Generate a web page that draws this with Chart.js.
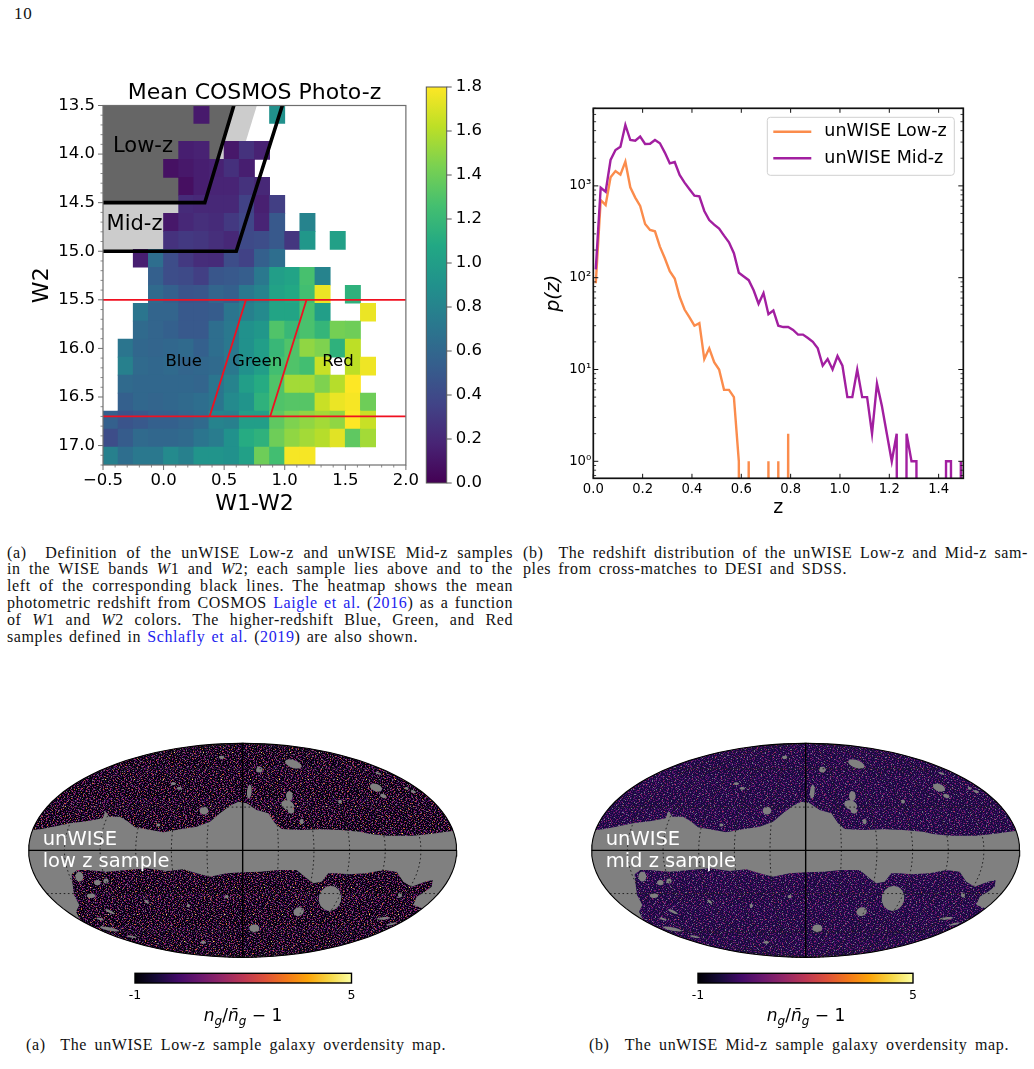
<!DOCTYPE html>
<html>
<head>
<meta charset="utf-8">
<title>unWISE sample definitions and overdensity maps</title>
<script src="https://cdn.jsdelivr.net/npm/chart.js@4/dist/chart.umd.min.js"></script>
<style>
  html, body { margin: 0; padding: 0; background: #fff; }
  #page { position: relative; width: 1034px; height: 1069px; overflow: hidden; background: #fff; }
  canvas { position: absolute; }
  .cap { position: absolute; font-family: "Liberation Serif", serif; font-size: 16px; letter-spacing: 0.6px; line-height: 17px;
         white-space: nowrap; text-align: justify; text-align-last: justify; color: #111; }
  .cap a { color: #2222ee; text-decoration: none; }
  .math { position: absolute; font-family: "DejaVu Sans", sans-serif; font-size: 17px; line-height: 24px;
          text-align: center; white-space: nowrap; color: #000; }
  .math sub { font-size: 12px; line-height: 0; }
</style>
</head>
<body>
<div id="page">
  <div class="cap" style="left:14px;top:5px;text-align-last:left;font-size:17px;letter-spacing:0.8px">10</div>

  <canvas id="heat" width="425" height="470" style="left:0;top:60px"></canvas>
  <canvas id="heatBar" width="80" height="444" style="left:420px;top:63px"></canvas>
  <canvas id="pz" width="490" height="440" style="left:530px;top:90px"></canvas>

  <div class="cap" style="left:7px;top:543.5px;width:506px">(a)&nbsp; Definition of the unWISE Low-z and unWISE Mid-z samples</div>
  <div class="cap" style="left:7px;top:560.4px;width:506px">in the WISE bands <i>W</i>1 and <i>W</i>2; each sample lies above and to the</div>
  <div class="cap" style="left:7px;top:577.2px;width:506px">left of the corresponding black lines. The heatmap shows the mean</div>
  <div class="cap" style="left:7px;top:594px;width:506px">photometric redshift from COSMOS <a>Laigle et al.</a> (<a>2016</a>) as a function</div>
  <div class="cap" style="left:7px;top:610.9px;width:506px">of <i>W</i>1 and <i>W</i>2 colors. The higher-redshift Blue, Green, and Red</div>
  <div class="cap" style="left:7px;top:627.7px;width:411px">samples defined in <a>Schlafly et al.</a> (<a>2019</a>) are also shown.</div>

  <div class="cap" style="left:523px;top:543.5px;width:505px">(b)&nbsp; The redshift distribution of the unWISE Low-z and Mid-z sam-</div>
  <div class="cap" style="left:523px;top:560.4px;width:324px">ples from cross-matches to DESI and SDSS.</div>

  <canvas id="mapLow" width="450" height="230" style="left:20px;top:735px"></canvas>
  <canvas id="mapMid" width="451" height="230" style="left:583px;top:735px"></canvas>
  <canvas id="barLow" width="260" height="45" style="left:115px;top:965px"></canvas>
  <canvas id="barMid" width="260" height="45" style="left:678px;top:965px"></canvas>

  <div class="math" style="left:143px;top:1003px;width:200px"><i>n<sub>g</sub></i>/<i>n̄<sub>g</sub></i> − 1</div>
  <div class="math" style="left:706px;top:1003px;width:200px"><i>n<sub>g</sub></i>/<i>n̄<sub>g</sub></i> − 1</div>

  <div class="cap" style="left:26px;top:1035.5px;width:420px">(a)&nbsp; The unWISE Low-z sample galaxy overdensity map.</div>
  <div class="cap" style="left:589px;top:1035.5px;width:420px">(b)&nbsp; The unWISE Mid-z sample galaxy overdensity map.</div>
</div>

<script>
/* ---------- Colour-colour heatmap: mean photo-z per W1-W2 / W2 bin ---------- */
const _ = null;
const colourBinStart = -0.5, colourBinWidth = 0.125;
const magBinStart = 13.5, magBinWidth = 0.185;
const meanPhotoZRows = [
  [_,_,_,_,_,_,.13,_,_,_,_,.90,_,_,_,_,_,_,_,_],
  [_,_,_,_,_,_,_,_,_,_,_,_,_,_,_,_,_,_,_,_],
  [_,_,_,_,_,.15,.17,_,.12,.26,.17,_,_,_,_,_,_,_,_,_],
  [_,_,_,_,.08,.12,.15,.17,.25,.15,_,_,_,_,_,_,_,_,_,_],
  [_,_,_,_,_,.07,.15,.18,.18,.26,.20,_,_,_,_,_,_,_,_,_],
  [_,_,_,_,_,.22,.20,.20,.20,.35,.16,.33,_,_,_,_,_,_,_,_],
  [_,_,_,_,.12,.20,.24,.22,.30,.38,.18,.50,_,.80,_,_,_,_,_,_],
  [_,_,_,_,.26,.30,.28,.24,.20,.40,.42,.50,.28,.95,_,1.02,_,_,_,_],
  [_,_,.15,.65,.42,.30,.23,.22,.42,.35,.55,.65,_,_,_,_,_,_,_,_],
  [_,_,_,.55,.42,.40,.33,.48,.50,.53,.72,1.00,1.04,1.27,.80,_,_,_,_,_],
  [_,_,_,.62,.55,.47,.48,.58,.55,.72,.80,1.03,1.08,1.25,1.75,_,1.15,_,_,_],
  [_,_,.70,.58,.58,.50,.50,.52,.70,.78,.85,1.05,1.05,1.28,1.00,_,_,1.75,_,_],
  [_,_,.62,.58,.55,.50,.50,.65,.72,.90,.95,1.30,1.20,1.28,1.18,1.42,1.40,_,_,_],
  [_,.70,.60,.58,.60,.62,.55,.65,.72,.90,1.00,1.20,1.30,1.50,1.45,1.15,1.62,_,_,_],
  [_,.78,.62,.60,.62,.58,.60,.62,.72,.90,1.00,1.25,1.30,1.25,1.65,_,1.62,1.76,_,_],
  [_,.62,.60,.60,.60,.60,.58,.70,.80,1.00,1.10,1.30,1.55,1.55,1.45,1.60,1.80,_,_,_],
  [_,.55,.60,.58,.60,.62,.65,.70,.85,.92,1.15,1.30,1.32,1.32,1.65,1.75,1.78,1.40,_,_],
  [.55,.47,.50,.55,.55,.58,.62,.80,.78,1.00,1.00,1.35,1.45,1.50,1.55,1.50,1.80,1.65,_,_],
  [.42,.52,.62,.60,.60,.62,.70,.75,.90,1.10,1.15,1.40,1.50,1.55,1.60,1.72,1.35,1.55,_,_],
  [.78,.65,.72,.72,.85,.78,.92,.92,.90,1.02,1.40,1.25,1.78,1.78,_,_,_,_,_,_]
];
const heatXTicks = [-0.5, 0, 0.5, 1, 1.5, 2];
const heatYTicks = [13.5, 14, 14.5, 15, 15.5, 16, 16.5, 17];
const heatXMinor = [-0.4,-0.3,-0.2,-0.1,0.1,0.2,0.3,0.4,0.6,0.7,0.8,0.9,1.1,1.2,1.3,1.4,1.6,1.7,1.8,1.9];
const heatYMinor = [13.6,13.7,13.8,13.9,14.1,14.2,14.3,14.4,14.6,14.7,14.8,14.9,15.1,15.2,15.3,15.4,15.6,15.7,15.8,15.9,16.1,16.2,16.3,16.4,16.6,16.7,16.8,16.9,17.1,17.2];

// Sample selection boundaries in (W1-W2, W2).
const lowZCut = [[-0.5,14.5],[0.34,14.5],[0.58,13.5]];
const midZCut = [[-0.5,15],[0.60,15],[0.98,13.5]];
const lowZShade = [[-0.5,14.5],[0.34,14.5],[0.58,13.5],[-0.5,13.5]];
const midZShade = [[-0.5,15],[0.40,15],[0.77,13.5],[-0.5,13.5]];
const w2FaintCut = [[-0.5,15.5],[2,15.5]];
const w2DeepCut = [[-0.5,16.7],[2,16.7]];
const blueGreenCut = [[0.68,15.5],[0.38,16.7]];
const greenRedCut = [[1.18,15.5],[0.88,16.7]];

/* ---------- Redshift distributions ---------- */
const zBinCenters = [0.01,0.03,0.05,0.07,0.09,0.11,0.13,0.15,0.17,0.19,0.21,0.23,0.25,0.27,0.29,0.31,0.33,0.35,0.37,0.39,0.41,0.43,0.45,0.47,0.49,0.51,0.53,0.55,0.57,0.59,0.61,0.63,0.65,0.67,0.69,0.71,0.73,0.75,0.77,0.79,0.81,0.83,0.85,0.87,0.89,0.91,0.93,0.95,0.97,0.99,1.01,1.03,1.05,1.07,1.09,1.11,1.13,1.15,1.17,1.19,1.21,1.23,1.25,1.27,1.29,1.31,1.33,1.35,1.37,1.39,1.41,1.43,1.45,1.47,1.49];
const lowZCounts = [87,700,620,1240,1450,1325,1835,965,745,604,385,331,320,218,163,118,98,62,45,37,30,32,13,17,12,10,6,6,5,1,0,1,0,0,0,1,0,1,0,2,0,0,0,0,0,0,0,0,0,0,0,0,0,0,0,0,0,0,0,0,0,0,0,0,0,0,0,0,0,0,0,0,0,0,0];
const midZCounts = [123,955,865,1915,2460,2670,4610,3160,3110,3450,2865,2880,3160,2910,2305,1762,1820,1315,1084,918,782,770,533,425,378,342,287,243,185,113,103,94,73,52,68,40,44,30,29,29,27,24,24,22,20,17,11,13,10,14,11,5,5,10,5,5,2,7,4,2,1,2,0,2,1,1,0,0,0,0,0,1,1,0,1];
const zTicks = [0, 0.2, 0.4, 0.6, 0.8, 1.0, 1.2, 1.4];
const pzDecades = [1, 10, 100, 1000];
const pzDecadeLabels = ['10⁰', '10¹', '10²', '10³'];
const pzMinor = [0.7,0.8,0.9,2,3,4,5,6,7,8,9,20,30,40,50,60,70,80,90,200,300,400,500,600,700,800,900,2000,3000,4000,5000,6000,7000];

/* ---------- Sky maps, outlines traced in map units ---------- */
const northMaskEdge = [[38,285],[60,283],[100,275],[150,265],[205,258],[248,250],[256,228],[268,245],[300,245],[325,260],[345,277],[380,283],[430,292],[480,283],[530,275],[570,260],[600,235],[630,212],[655,200],[680,205],[710,225],[745,235],[765,265],[785,282],[840,285],[900,283],[960,285],[1020,290],[1050,297],[1100,302],[1180,302],[1230,297],[1296,288]];
const southMaskEdge = [[182,557],[168,530],[178,510],[162,480],[158,450],[155,418],[172,405],[200,405],[260,410],[320,405],[380,400],[440,408],[490,403],[530,415],[570,425],[620,415],[668,412],[720,410],[775,405],[830,405],[860,430],[880,445],[905,440],[925,415],[950,415],[985,418],[1040,415],[1090,405],[1130,410],[1150,440],[1175,455],[1215,440],[1238,435],[1235,455],[1215,470],[1190,485],[1180,510],[1207,520]];
// Masked patches: centre, radii and tilt in degrees.
const maskHoles = [[820,87,26,12,20],[718,104,10,9,0],[605,67,8,5,0],[1068,158,19,11,20],[1090,183,10,6,20],[688,170,7,21,5],[808,183,10,15,0],[803,210,20,14,20],[813,228,10,8,0],[552,227,13,12,0],[460,146,8,4,0],[478,160,8,4,0],[930,490,34,38,15],[836,530,16,13,-20],[703,580,15,12,0],[178,425,12,15,0],[232,443,10,8,0],[258,438,8,8,0],[213,482,13,7,0],[380,500,9,4,40],[505,512,5,5,0],[620,485,6,5,0],[1140,480,6,8,0],[270,530,16,4,25],[268,582,30,5,12],[240,552,12,3,15],[335,605,15,3,10],[1090,550,20,4,-5],[1115,567,16,3,-15],[550,622,8,4,0],[960,200,6,6,0],[1075,115,10,3,20],[1160,160,6,4,20],[1180,170,8,4,20],[415,270,6,5,0],[845,260,6,8,0]];
const meridianLongitudes = [-150,-120,-90,-60,-30,30,60,90,120,150];
const parallelLatitudes = [-60,-30,30,60];
const overdensityTicks = [-1, 5];

// Hand-set grain for the observed sky: it stands in for pixel noise and carries no measured values.
// A base weave is overlaid with two sparse speck layers of different periods so the repeat stays hidden.
const skyGrainBase = [
  "..aabc.a...bda.ac..ba.a..cb...ab",
  "a.b..ca.ba..a..b.ac...dba.a.c..a",
  ".cba...a..cb.a...ba.c...a.b..ada",
  "b...adb..a...cba.a...ab.c..a.b..",
  "a.c..a...bac..a..db.a...ba..c.a.",
  "...ba.cb.a..a.b...a..cab...a.db.",
  ".ab...a..d.ba...ca.b...a.ca....b",
  "c..a.b..ac...a.b...a.db...ab.c..",
  ".a..cba...b.a.d..ca...a.b...a.ba",
  "ba.....ac.a.b...a..bac..a.d...c.",
  "..db.a...ba...ca.b...a.b...cba..",
  "a...c.ba.....ab..d.ac...ba...a.b",
  ".bc.a...db.a.c...a....b.a.cb.a..",
  "...a.ba...a..b.ca..bd.a...a...ca",
  "a.b...c.ab...a...b.a..c.ab.d....",
  ".a.cd...a.ba.c.a....ba...a...bca",
  "b...a.b....a...db.ca...c..ba....",
  "..ca...ac.b..a.b...a.b...a..d.ab",
  "a...bd.a...cb....a.c..ab...c.a..",
  ".b.a....ba...a.dc...b.a...ba...c",
  "..a.cb...a.b.a...ab...c.d...a.b.",
  "ca...a.db.....cb.a..a...b.ac...a",
  ".b..a...a.c.a...b...db.a...a.b..",
  "a..cb.a...b..da...c.a...cb...a.c",
  "...a..b.ca...b.a.b....a.a..db...",
  "b.d...a...a.c...a..bc...a.b...a.",
  ".a..ba...db...a...ca.b....c.a..b",
  "c...a.c...a.b..cb...a..db...a...",
  ".ab....a.b...a....a.c.a...ba.c.a",
  "..a.db.c..a.cb.a.d...b.a.....b..",
  "a...a...b...a....ba...c..a.bc..a",
  ".c.b..a.a.db..c.a..a.b...d...a.b"
];
const skyGrainSpecksA = [
  "---e-----g--------f------e---",
  "---------------e--------g----",
  "-f-----------g---------------",
  "--------e----------d-----f---",
  "----g-------------e----------",
  "------------f----------g---e-",
  "-e-----d---------------------",
  "----------------g-----f------",
  "--------g--e-----------------",
  "--f------------------e----g--",
  "-------------d---------------",
  "-----e-------------g------f--",
  "-g---------f-----------------",
  "-----------------e----d----e-",
  "--------f------g-------------",
  "---e-----------------g-------",
  "--------------e-------------f",
  "------g--h---------e---------",
  "-e---------------f-------g---",
  "------------g--------------e-",
  "-----f------------e----------",
  "--g------------d---------f---",
  "----------e------------g-----",
  "-f---------------g-----------",
  "-------e---g----------e-----d",
  "--------------------f--------",
  "----g------f--e--------------"
];
const skyGrainSpecksB = [
  "-----------d-----------",
  "--e----------g---------",
  "-----------------e-----",
  "-------f---------------",
  "-g----------------d----",
  "-----------e-----------",
  "--------------g-----f--",
  "---d-------------------",
  "---------g------e------",
  "----------------------e",
  "-e------f--------------",
  "---------------d---g---",
  "-----g-----------------",
  "-----------e-------f---",
  "--f--------------------",
  "---------d------g------",
  "-------------------e---",
  "--g---e----------------",
  "-------------f---------",
  "---------------------g-",
  "-----d-----g-----------",
  "-e---------------e-----",
  "-------------------d---",
  "-----------f-----------",
  "---g------------------e"
];
const lowSkyPalette = { '.':'#040208', a:'#1e0c42', b:'#430c63', c:'#6b1669', d:'#84206a', e:'#9c2c62', f:'#d0603a', g:'#7a7078', h:'#f8e060' };
const midSkyPalette = { '.':'#160b3c', a:'#2a0a56', b:'#400e68', c:'#551272', d:'#641670', e:'#7a1e6c', f:'#98285f', g:'#7a7488', h:'#c84458' };

/* ---------- Colour maps ---------- */
const viridisStops = ['#440154','#482475','#414487','#355f8d','#2a788e','#21918c','#22a884','#44bf70','#7ad151','#bddf26','#fde725'];
const infernoStops = ['#000004','#160b39','#420a68','#6a176e','#932667','#bc3754','#dd513a','#f37819','#fca50a','#f6d746','#fcffa4'];
const heatBarTicks = [0, 0.2, 0.4, 0.6, 0.8, 1.0, 1.2, 1.4, 1.6, 1.8];

function hexRgb(h) { return [1, 3, 5].map(i => parseInt(h.slice(i, i + 2), 16)); }
function viridis(v) {
  const t = Math.max(0, Math.min(1, v / 1.8)) * (viridisStops.length - 1);
  const i = Math.min(Math.floor(t), viridisStops.length - 2), f = t - i;
  const a = hexRgb(viridisStops[i]), b = hexRgb(viridisStops[i + 1]);
  return `rgb(${a.map((c, k) => Math.round(c + (b[k] - c) * f)).join(',')})`;
}
function stopsGradient(ctx, x0, y0, x1, y1, stops) {
  const g = ctx.createLinearGradient(x0, y0, x1, y1);
  stops.forEach((c, i) => g.addColorStop(i / (stops.length - 1), c));
  return g;
}

/* ---------- Shared drawing helpers ---------- */
const pts = arr => arr.map(([x, y]) => ({ x, y }));
const lockTicks = values => scale => { scale.ticks = values.map(value => ({ value })); };
const oneDecimal = v => Number(v).toFixed(1).replace('-', '−');
const FRAME_FONT = '"DejaVu Sans"';

Chart.defaults.font.family = FRAME_FONT;
Chart.defaults.color = '#000';

// Fills a closed outline from a dataset's resolved points; null entries start a new outline.
Chart.register({
  id: 'outlineFill',
  beforeDatasetDraw(chart, args) {
    const fill = chart.data.datasets[args.index].outlineFill;
    if (!fill) return;
    const { ctx } = chart;
    const pointsEls = chart.getDatasetMeta(args.index).data;
    ctx.save();
    ctx.beginPath();
    let open = false;
    pointsEls.forEach(p => {
      if (p.skip) { if (open) ctx.closePath(); open = false; return; }
      if (!open) { ctx.moveTo(p.x, p.y); open = true; } else ctx.lineTo(p.x, p.y);
    });
    if (open) ctx.closePath();
    ctx.fillStyle = fill;
    ctx.fill();
    ctx.restore();
  }
});

// Spines and tick marks in the style of the plots; positions come from the scales.
Chart.register({
  id: 'axisFrame',
  afterDatasetsDraw(chart, args, opts) {
    if (!opts.color) return;
    const { ctx, chartArea: a, scales } = chart;
    ctx.save();
    ctx.strokeStyle = opts.color;
    (opts.marks || []).forEach(m => {
      const sc = scales[m.axis];
      ctx.lineWidth = m.width;
      m.values.forEach(v => {
        const p = sc.getPixelForValue(v);
        ctx.beginPath();
        if (m.side === 'left') { ctx.moveTo(a.left, p); ctx.lineTo(a.left + m.len, p); }
        if (m.side === 'right') { ctx.moveTo(a.right, p); ctx.lineTo(a.right + m.len, p); }
        if (m.side === 'top') { ctx.moveTo(p, a.top); ctx.lineTo(p, a.top + m.len); }
        if (m.side === 'bottom') { ctx.moveTo(p, a.bottom); ctx.lineTo(p, a.bottom + m.len); }
        ctx.stroke();
      });
    });
    ctx.lineWidth = opts.width;
    ctx.strokeRect(a.left, a.top, a.right - a.left, a.bottom - a.top);
    ctx.restore();
  }
});

// Text placed at data coordinates.
Chart.register({
  id: 'dataText',
  afterDatasetsDraw(chart, args, opts) {
    const { ctx, scales } = chart;
    (opts.items || []).forEach(t => {
      ctx.save();
      ctx.font = t.font;
      ctx.fillStyle = t.color || '#000';
      ctx.textAlign = t.align || 'center';
      ctx.textBaseline = t.baseline || 'middle';
      ctx.fillText(t.text, scales.x.getPixelForValue(t.x), scales.y.getPixelForValue(t.y) + (t.dy || 0));
      ctx.restore();
    });
  }
});

// Legend box floating inside the plot area.
Chart.register({
  id: 'floatLegend',
  afterDatasetsDraw(chart, args, opts) {
    if (!opts.enabled) return;
    const { ctx, chartArea: a } = chart;
    const x = a.right - opts.right - opts.w, y = a.top + opts.top;
    ctx.save();
    ctx.beginPath();
    ctx.roundRect(x, y, opts.w, opts.h, 3);
    ctx.fillStyle = 'rgba(255,255,255,0.85)';
    ctx.fill();
    ctx.strokeStyle = '#d0d0d0';
    ctx.lineWidth = 1;
    ctx.stroke();
    chart.data.datasets.forEach((ds, i) => {
      const ly = y + opts.firstRow + i * opts.rowGap;
      ctx.strokeStyle = ds.borderColor;
      ctx.lineWidth = ds.borderWidth;
      ctx.beginPath();
      ctx.moveTo(x + 6, ly);
      ctx.lineTo(x + 44, ly);
      ctx.stroke();
      ctx.fillStyle = '#000';
      ctx.font = opts.font;
      ctx.textAlign = 'left';
      ctx.textBaseline = 'middle';
      ctx.fillText(ds.label, x + 57, ly);
    });
    ctx.restore();
  }
});

const baseOptions = {
  responsive: false,
  animation: false,
  events: [],
  layout: { autoPadding: false },
  plugins: { legend: { display: false }, tooltip: { enabled: false }, title: { display: false } }
};
function withBase(o) {
  return Object.assign({}, baseOptions, o, {
    layout: Object.assign({}, baseOptions.layout, o.layout),
    plugins: Object.assign({}, baseOptions.plugins, o.plugins)
  });
}
function lineSet(data, color, width, order, extra) {
  return Object.assign({ type: 'line', data: pts(data), borderColor: color, borderWidth: width, pointRadius: 0, tension: 0, fill: false, order }, extra);
}
function shadeSet(data, color, order) {
  return { type: 'line', data: pts(data), outlineFill: color, borderWidth: 0, pointRadius: 0, showLine: false, order };
}

/* ---------- Heatmap panel ---------- */
const heatCells = [], heatColours = [];
meanPhotoZRows.forEach((row, r) => row.forEach((v, c) => {
  if (v === null) return;
  heatCells.push({
    x: colourBinStart + (c + 0.5) * colourBinWidth,
    y: [magBinStart + r * magBinWidth, magBinStart + (r + 1) * magBinWidth]
  });
  heatColours.push(viridis(v));
}));

new Chart(document.getElementById('heat'), {
  type: 'bar',
  data: {
    datasets: [
      shadeSet(midZShade, '#cccccc', 20),
      shadeSet(lowZShade, '#666666', 19),
      { type: 'bar', data: heatCells, backgroundColor: heatColours, borderWidth: 0, barThickness: 15.3, order: 10 },
      lineSet(lowZCut, '#000', 3.6, 2),
      lineSet(midZCut, '#000', 3.6, 2),
      lineSet(w2FaintCut, '#f01020', 1.8, 3),
      lineSet(w2DeepCut, '#f01020', 1.8, 3),
      lineSet(blueGreenCut, '#f01020', 1.8, 3),
      lineSet(greenRedCut, '#f01020', 1.8, 3)
    ]
  },
  options: withBase({
    layout: { padding: { left: 0, right: 18, top: 45.5, bottom: 0 } },
    scales: {
      x: {
        type: 'linear', min: -0.5, max: 2, offset: false, bounds: 'data',
        grid: { display: false, offset: false, drawTicks: false }, border: { display: false },
        afterBuildTicks: lockTicks(heatXTicks),
        afterFit: s => { s.height = 65; },
        ticks: { padding: 6, autoSkip: false, maxRotation: 0, font: { size: 16.5 }, callback: oneDecimal },
        title: { display: true, text: 'W1-W2', font: { size: 22 }, padding: { top: 0, bottom: 13 } }
      },
      y: {
        type: 'linear', reverse: true, min: 13.5, max: 17.2, bounds: 'data',
        grid: { display: false, drawTicks: false }, border: { display: false },
        afterBuildTicks: lockTicks(heatYTicks),
        afterFit: s => { s.width = 103; },
        ticks: { padding: 8, autoSkip: false, font: { size: 16.5 }, callback: oneDecimal },
        title: { display: true, text: 'W2', font: { size: 22 }, padding: { top: 29, bottom: 0 } }
      }
    },
    plugins: {
      axisFrame: {
        color: '#6e6e6e', width: 1.2,
        marks: [
          { axis: 'y', values: heatYTicks, side: 'left', len: -5, width: 1 },
          { axis: 'y', values: heatYMinor, side: 'left', len: -2.5, width: 0.8 },
          { axis: 'x', values: heatXTicks, side: 'bottom', len: 5, width: 1 },
          { axis: 'x', values: heatXMinor, side: 'bottom', len: 2.5, width: 0.8 }
        ]
      },
      dataText: {
        items: [
          { text: 'Mean COSMOS Photo-z', x: 0.75, y: 13.5, dy: -12.5, font: '22px ' + FRAME_FONT },
          { text: 'Low-z', x: -0.17, y: 13.92, font: '21px ' + FRAME_FONT },
          { text: 'Mid-z', x: -0.24, y: 14.73, font: '21px ' + FRAME_FONT },
          { text: 'Blue', x: 0.166, y: 16.14, font: '16.5px ' + FRAME_FONT },
          { text: 'Green', x: 0.772, y: 16.14, font: '16.5px ' + FRAME_FONT },
          { text: 'Red', x: 1.44, y: 16.14, font: '16.5px ' + FRAME_FONT }
        ]
      }
    }
  })
});

new Chart(document.getElementById('heatBar'), {
  type: 'bar',
  data: {
    labels: ['mean z'],
    datasets: [{
      data: [[0, 1.8]],
      borderWidth: 0,
      barPercentage: 1,
      categoryPercentage: 1,
      backgroundColor: c => {
        const a = c.chart.chartArea;
        if (!a) return viridisStops[0];
        return stopsGradient(c.chart.ctx, 0, a.bottom, 0, a.top, viridisStops);
      }
    }]
  },
  options: withBase({
    layout: { padding: { left: 6.3, right: 0, top: 24, bottom: 24 } },
    scales: {
      x: { display: false },
      y: {
        type: 'linear', position: 'right', min: 0, max: 1.8, bounds: 'data',
        grid: { display: false, drawTicks: false }, border: { display: false },
        afterBuildTicks: lockTicks(heatBarTicks),
        afterFit: s => { s.width = 53.3; },
        ticks: { padding: 9, autoSkip: false, font: { size: 16.5 }, callback: oneDecimal }
      }
    },
    plugins: {
      axisFrame: {
        color: '#555', width: 1,
        marks: [{ axis: 'y', values: heatBarTicks, side: 'right', len: 5, width: 1 }]
      }
    }
  })
});

/* ---------- p(z) panel ---------- */
// A zero count cannot sit on a log axis: it is pushed far below the frame, so its segments run off the bottom.
const LOG_FLOOR = 1e-30;
const pzPoints = counts => zBinCenters.map((z, i) => ({ x: z, y: counts[i] > 0 ? counts[i] : LOG_FLOOR }));

new Chart(document.getElementById('pz'), {
  type: 'line',
  data: {
    datasets: [
      { label: 'unWISE Low-z', data: pzPoints(lowZCounts), borderColor: '#fb8c4c', borderWidth: 2.4, pointRadius: 0, tension: 0, fill: false, order: 2 },
      { label: 'unWISE Mid-z', data: pzPoints(midZCounts), borderColor: '#a21fa0', borderWidth: 2.4, pointRadius: 0, tension: 0, fill: false, order: 1 }
    ]
  },
  options: withBase({
    layout: { padding: { left: 0, right: 56.7, top: 18.3, bottom: 0 } },
    scales: {
      x: {
        type: 'linear', min: 0, max: 1.5, bounds: 'data',
        grid: { display: false, drawTicks: false }, border: { display: false },
        afterBuildTicks: lockTicks(zTicks),
        afterFit: s => { s.height = 51.7; },
        ticks: { padding: 3, autoSkip: false, maxRotation: 0, font: { size: 13.2 }, callback: oneDecimal },
        title: { display: true, text: 'z', font: { size: 19 }, padding: { top: 0, bottom: 10.6 } }
      },
      y: {
        type: 'logarithmic', min: 0.653, max: 7000, bounds: 'data',
        grid: { display: false, drawTicks: false }, border: { display: false },
        afterBuildTicks: lockTicks(pzDecades),
        afterFit: s => { s.width = 63.3; },
        ticks: { padding: 2, autoSkip: false, font: { size: 13.2 }, callback: v => pzDecadeLabels[pzDecades.indexOf(v)] },
        title: { display: true, text: 'p(z)', font: { size: 19, style: 'italic' }, padding: { top: 13, bottom: 0 } }
      }
    },
    plugins: {
      axisFrame: {
        color: '#111', width: 1.7,
        marks: [
          { axis: 'y', values: pzDecades, side: 'left', len: 5, width: 1 },
          { axis: 'y', values: pzMinor, side: 'left', len: 2.8, width: 0.8 },
          { axis: 'y', values: pzDecades, side: 'right', len: -5, width: 1 },
          { axis: 'y', values: pzMinor, side: 'right', len: -2.8, width: 0.8 },
          { axis: 'x', values: zTicks, side: 'top', len: 4.5, width: 1 },
          { axis: 'x', values: zTicks, side: 'bottom', len: -4.5, width: 1 }
        ]
      },
      floatLegend: { enabled: true, right: 9, top: 9, w: 187, h: 58, firstRow: 14.4, rowGap: 26.6, font: '17.5px ' + FRAME_FONT }
    }
  })
});

/* ---------- Sky maps ---------- */
const MAP_A = 642, MAP_B = 321, MAP_CX = 668, MAP_CY = 346;
const toPlane = ([u, v]) => [u - MAP_CX, MAP_CY - v];
const rimPoint = t => [MAP_A * Math.cos(t), MAP_B * Math.sin(t)];
const rimAngle = ([x, y]) => Math.atan2(y / MAP_B, x / MAP_A);

function rimArc(from, to, n) {
  const out = [];
  for (let i = 0; i <= n; i++) out.push(rimPoint(from + (to - from) * i / n));
  return out;
}
function closedAlongRim(edge) {
  const plane = edge.map(toPlane);
  return plane.concat(rimArc(rimAngle(plane[plane.length - 1]), rimAngle(plane[0]), 60));
}
function holeOutlines(holes) {
  const out = [];
  holes.forEach(([cu, cv, rx, ry, tilt]) => {
    const tr = tilt * Math.PI / 180;
    for (let i = 0; i < 14; i++) {
      const a = i / 14 * 2 * Math.PI;
      const dx = rx * Math.cos(a), dy = ry * Math.sin(a);
      out.push({ x: cu - MAP_CX + dx * Math.cos(tr) - dy * Math.sin(tr), y: MAP_CY - cv - dx * Math.sin(tr) - dy * Math.cos(tr) });
    }
    out.push({ x: null, y: null });
  });
  return out;
}
function mollweideTheta(latDeg) {
  const phi = latDeg * Math.PI / 180;
  let th = phi;
  for (let i = 0; i < 30; i++) th -= (2 * th + Math.sin(2 * th) - Math.PI * Math.sin(phi)) / (2 + 2 * Math.cos(2 * th));
  return th;
}
function meridian(lon) {
  const out = [];
  for (let i = 0; i <= 40; i++) {
    const th = -Math.PI / 2 + Math.PI * i / 40;
    out.push([lon / 180 * MAP_A * Math.cos(th), MAP_B * Math.sin(th)]);
  }
  return out;
}
function parallel(lat) {
  const th = mollweideTheta(lat);
  return [[-MAP_A * Math.cos(th), MAP_B * Math.sin(th)], [MAP_A * Math.cos(th), MAP_B * Math.sin(th)]];
}
function grainPattern(ctx, palette, shift) {
  const off = document.createElement('canvas');
  off.width = 460;
  off.height = 240;
  const g = off.getContext('2d');
  const at = (rows, x, y) => { const r = rows[y % rows.length]; return r[x % r.length]; };
  for (let y = 0; y < off.height; y++) {
    for (let x = 0; x < off.width; x++) {
      const sx = x + shift, sy = y + shift * 2;
      const a = at(skyGrainSpecksA, sx + Math.floor(sy / 27) * 11, sy);
      const b = at(skyGrainSpecksB, sx + Math.floor(sy / 25) * 7, sy);
      const ch = a !== '-' ? a : (b !== '-' ? b : at(skyGrainBase, sx + Math.floor(sy / 32) * 5, sy));
      g.fillStyle = palette[ch];
      g.fillRect(x, y, 1, 1);
    }
  }
  return ctx.createPattern(off, 'repeat');
}

function skyMap(id, palette, shift, lines, xMin, xMax) {
  const canvas = document.getElementById(id);
  const grain = grainPattern(canvas.getContext('2d'), palette, shift);
  const dotted = { borderDash: [1.6, 2.6] };
  const rim = rimArc(0, 2 * Math.PI, 120);
  new Chart(canvas, {
    type: 'line',
    data: {
      datasets: [
        shadeSet(rim, '#808080', 50),
        shadeSet(closedAlongRim(northMaskEdge), grain, 40),
        shadeSet(closedAlongRim(southMaskEdge), grain, 40),
        { type: 'line', data: holeOutlines(maskHoles), outlineFill: '#808080', borderWidth: 0, pointRadius: 0, showLine: false, order: 30 },
        ...meridianLongitudes.map(lon => lineSet(meridian(lon), '#222', 1, 20, dotted)),
        ...parallelLatitudes.map(lat => lineSet(parallel(lat), '#222', 1, 20, dotted)),
        lineSet([[0, -MAP_B], [0, MAP_B]], '#000', 1.4, 10),
        lineSet([[-MAP_A, 0], [MAP_A, 0]], '#000', 1.4, 10),
        lineSet(rim, '#000', 1.1, 5)
      ]
    },
    options: withBase({
      layout: { padding: 0 },
      scales: {
        x: { type: 'linear', display: false, min: xMin, max: xMax, bounds: 'data' },
        y: { type: 'linear', display: false, min: -344, max: 346, bounds: 'data' }
      },
      plugins: {
        dataText: {
          items: lines.map((text, i) => ({
            text, x: -600, y: 16 - i * 66, font: '19.5px ' + FRAME_FONT, color: '#fff', align: 'left', baseline: 'alphabetic'
          }))
        }
      }
    })
  });
}
skyMap('mapLow', lowSkyPalette, 0, ['unWISE', 'low z sample'], -668, 682);
skyMap('mapMid', midSkyPalette, 11, ['unWISE', 'mid z sample'], -668, 685);

function overdensityBar(id, rightPad) {
  new Chart(document.getElementById(id), {
    type: 'bar',
    data: {
      labels: ['overdensity'],
      datasets: [{
        data: [[-1, 5]],
        borderWidth: 0,
        barPercentage: 1,
        categoryPercentage: 1,
        backgroundColor: c => {
          const a = c.chart.chartArea;
          if (!a) return infernoStops[0];
          return stopsGradient(c.chart.ctx, a.left, 0, a.right, 0, infernoStops);
        }
      }]
    },
    options: withBase({
      indexAxis: 'y',
      layout: { padding: { left: 20, right: rightPad, top: 8.3, bottom: 0 } },
      scales: {
        y: { display: false },
        x: {
          type: 'linear', position: 'bottom', min: -1, max: 5, bounds: 'data',
          grid: { display: false, drawTicks: false }, border: { display: false },
          afterBuildTicks: lockTicks(overdensityTicks),
          afterFit: s => { s.height = 27; },
          ticks: { padding: 5, autoSkip: false, maxRotation: 0, font: { size: 12.5 }, callback: v => String(v) }
        }
      },
      plugins: { axisFrame: { color: '#000', width: 1.4, marks: [] } }
    })
  });
}
overdensityBar('barLow', 23.5);
overdensityBar('barMid', 25);
</script>
</body>
</html>
